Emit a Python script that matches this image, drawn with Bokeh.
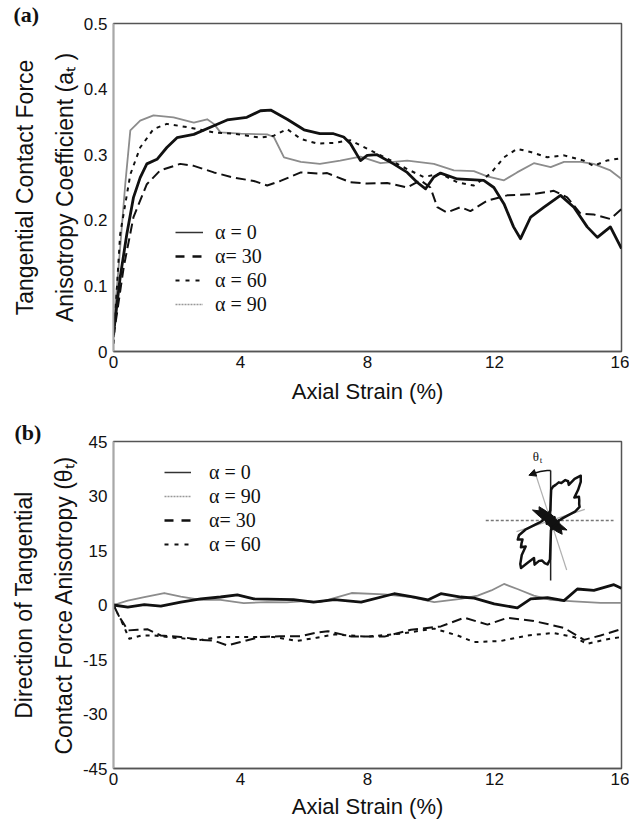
import math
from bokeh.plotting import figure
from bokeh.models import Range1d, FixedTicker, Label, Legend, LegendItem, Title
from bokeh.layouts import column
from bokeh.embed import file_html
from bokeh.resources import INLINE

# ---------------- data ----------------
x_ticks = [0, 4, 8, 12, 16]
x_tick_labels = ["0", "4", "8", "12", "16"]
a_ticks = [0, 0.1, 0.2, 0.3, 0.4, 0.5]
a_tick_labels = ["0", "0.1", "0.2", "0.3", "0.4", "0.5"]
t_ticks = [-45, -30, -15, 0, 15, 30, 45]
t_tick_labels = ["-45", "-30", "-15", "0", "15", "30", "45"]

# (a) anisotropy coefficient a_t
a0_x = [0, 0.21, 0.42, 0.63, 0.84, 1.05, 1.37, 1.68, 2.0, 2.53, 3.16, 3.58, 4.2, 4.63, 4.95, 5.47, 6.0, 6.5,
        6.93, 7.25, 7.46, 7.78, 7.99, 8.3, 8.82, 9.25, 9.56, 9.83, 10.09, 10.3, 10.83, 11.66, 11.98, 12.3,
        12.6, 12.82, 13.14, 13.56, 14.08, 14.5, 14.92, 15.24, 15.65, 16]
a0_y = [0.027, 0.113, 0.179, 0.235, 0.265, 0.286, 0.293, 0.311, 0.326, 0.331, 0.344, 0.353, 0.357, 0.367,
        0.368, 0.354, 0.338, 0.332, 0.332, 0.327, 0.317, 0.291, 0.299, 0.300, 0.286, 0.273, 0.258, 0.248,
        0.266, 0.272, 0.263, 0.261, 0.25, 0.225, 0.19, 0.172, 0.205, 0.22, 0.238, 0.22, 0.19, 0.174, 0.19, 0.157]
a30_x = [0, 0.32, 0.63, 1.05, 1.47, 2.1, 2.53, 3.16, 3.79, 4.42, 4.84, 5.26, 5.9, 6.5, 6.73, 7.46, 7.99,
         8.62, 9.25, 9.67, 9.98, 10.2, 10.5, 10.93, 11.24, 11.77, 12.4, 13.24, 13.87, 14.29, 14.71, 15.12,
         15.65, 16]
a30_y = [0.022, 0.128, 0.205, 0.255, 0.276, 0.286, 0.283, 0.273, 0.265, 0.26, 0.253, 0.26, 0.273, 0.271,
         0.272, 0.258, 0.256, 0.257, 0.25, 0.261, 0.25, 0.22, 0.212, 0.22, 0.214, 0.23, 0.238, 0.24, 0.245,
         0.235, 0.21, 0.209, 0.202, 0.217]
a60_x = [0, 0.21, 0.53, 0.84, 1.26, 1.68, 2.32, 3.16, 3.79, 4.63, 5.05, 5.47, 5.9, 6.41, 6.93, 7.46, 7.99,
         8.62, 9.25, 9.77, 10.3, 10.83, 11.35, 11.87, 12.3, 12.71, 13.14, 13.66, 14.19, 14.81, 15.12, 15.54,
         15.9]
a60_y = [0.012, 0.179, 0.27, 0.311, 0.339, 0.347, 0.342, 0.334, 0.332, 0.326, 0.329, 0.339, 0.324, 0.317,
         0.318, 0.322, 0.309, 0.294, 0.278, 0.266, 0.271, 0.258, 0.253, 0.271, 0.296, 0.309, 0.304, 0.296,
         0.299, 0.291, 0.283, 0.291, 0.294]
a90_x = [0, 0.16, 0.37, 0.53, 0.84, 1.26, 1.89, 2.53, 2.95, 3.16, 3.37, 4.0, 4.84, 5.05, 5.37, 5.9, 6.5,
         7.14, 7.78, 8.41, 9.25, 10.09, 10.72, 11.35, 11.77, 12.3, 12.71, 13.24, 13.77, 14.19, 14.71, 15.12,
         15.65, 16]
a90_y = [0.037, 0.128, 0.255, 0.337, 0.352, 0.36, 0.357, 0.349, 0.354, 0.347, 0.334, 0.332, 0.331, 0.327,
         0.296, 0.289, 0.286, 0.291, 0.297, 0.287, 0.291, 0.286, 0.276, 0.275, 0.267, 0.261, 0.273, 0.287,
         0.281, 0.289, 0.289, 0.286, 0.276, 0.263]

# (b) direction theta_t (degrees)
b0_x = [0, 0.45, 0.97, 1.49, 2.12, 2.75, 3.37, 3.9, 4.42, 5.67, 6.3, 6.96, 7.8, 8.84, 9.47, 9.9, 10.31,
        10.94, 11.36, 11.99, 12.72, 13.14, 13.67, 14.19, 14.61, 15.13, 15.76, 16]
b0_y = [0, -0.6, 0.1, -0.3, 0.8, 1.7, 2.2, 2.8, 1.7, 1.5, 0.8, 1.5, 0.8, 3.1, 2.2, 1.4, 3.1, 2.2, 1.9, 0.3,
        -0.8, 1.7, 2.0, 1.2, 4.4, 4.0, 5.6, 4.6]
b90_x = [0, 0.45, 0.97, 1.6, 2.12, 2.75, 3.37, 4.1, 4.83, 5.46, 6.0, 6.5, 7.5, 8.53, 9.37, 10.1, 10.94,
         11.47, 11.9, 12.3, 12.72, 13.24, 13.77, 14.5, 15.34, 16]
b90_y = [0, 1.2, 2.2, 3.3, 2.3, 1.4, 1.4, 0.5, 0.8, 0.7, 1.1, 0.8, 3.3, 2.9, 2.2, 0.8, 1.7, 2.6, 4.0, 5.8,
         4.4, 2.6, 1.4, 1.0, 0.6, 0.6]
b30_x = [0, 0.19, 0.29, 0.45, 0.76, 1.08, 1.49, 2.12, 2.75, 3.16, 3.58, 4.0, 4.63, 5.25, 5.88, 6.4, 6.75,
         7.5, 8.53, 9.37, 10.31, 11.05, 11.78, 12.41, 13.24, 14.19, 14.82, 15.34, 16]
b30_y = [0, -3.4, -4.7, -7.0, -6.8, -6.7, -8.4, -8.8, -9.6, -9.8, -11.1, -10.2, -8.8, -8.6, -8.6, -7.6,
         -7.2, -8.7, -8.7, -6.8, -5.9, -3.5, -5.4, -3.5, -4.4, -6.3, -9.6, -8.4, -6.6]
b60_x = [0, 0.29, 0.5, 0.87, 1.28, 1.91, 2.75, 3.37, 4.2, 5.04, 5.78, 6.4, 6.96, 8.0, 9.05, 10.1, 10.84,
         11.36, 12.2, 13.03, 13.87, 14.5, 14.92, 15.44, 16]
b60_y = [0, -5.2, -9.3, -8.4, -8.4, -9.0, -9.6, -8.8, -8.8, -8.8, -9.9, -9.0, -8.1, -8.7, -7.9, -6.5, -8.4,
         -10.2, -9.9, -8.4, -7.7, -8.8, -10.7, -9.6, -8.8]

# inset rose diagram (polar outline: angle in degrees, radius in px)
rose_deg = [0, 5, 10, 15, 20, 25, 30, 35, 40, 44, 48, 52, 56, 60, 63, 66, 70, 74, 78, 82, 86, 89, 92, 110,
            140, 170, 180, 185, 190, 195, 200, 205, 210, 214, 218, 222, 226, 230, 235, 238, 242, 246, 250,
            254, 258, 262, 266, 269, 272, 290, 320, 350]
rose_r = [8, 10, 12, 16, 26, 32, 33, 35, 37, 33, 41, 49, 54, 48, 40, 43, 43, 39, 39, 36, 34, 31, 10, 7,
          7, 8, 8, 9, 11, 16, 27, 35, 38, 34, 37, 40, 36, 45, 53, 56, 47, 41, 47, 42, 41, 43, 44, 39, 10, 7,
          7, 8]
blob_deg = [0, 20, 40, 60, 80, 100, 120, 130, 140, 150, 160, 180, 200, 220, 240, 260, 280, 300, 310, 320,
            330, 340]
blob_r = [7, 5, 6, 5, 6, 7, 12, 18, 15, 21, 12, 6, 5, 6, 5, 6, 8, 13, 18, 14, 19, 10]
principal_deg = 108

# ---------------- styling ----------------
SANS = "Liberation Sans"
SERIF = "Liberation Serif"
INK = "#111111"
GRAY = "#8c8c8c"
AX_DARK = "#555555"
AX_LIGHT = "#a8a8a8"

H1, H2 = 408, 414   # figure heights (page = 822)


def base_figure(height, top, bottom, left, yr, yticks, ylabels, px_rng, py_rng, xlabel_standoff,
                ylabel, panel_tag, tag_standoff):
    p = figure(width=629, height=height, x_range=Range1d(0, 16), y_range=Range1d(*yr),
               output_backend="svg", toolbar_location=None,
               min_border_left=left, min_border_right=8, min_border_top=top, min_border_bottom=bottom)
    p.grid.visible = False
    p.outline_line_color = AX_DARK
    p.outline_line_width = 1.5
    p.extra_x_ranges = {"px": Range1d(*px_rng)}
    p.extra_y_ranges = {"py": Range1d(*py_rng)}

    p.title = Title(text=panel_tag, align="left", offset=13 - left, standoff=tag_standoff,
                    text_font=SERIF, text_font_size="22px", text_font_style="bold", text_color=INK,
                    vertical_align="bottom")

    def style(ax, color):
        ax.axis_line_color = color
        ax.axis_line_width = 1.5
        ax.major_tick_line_color = None
        ax.minor_tick_line_color = None
        ax.major_tick_out = 0
        ax.major_tick_in = 0
        ax.minor_tick_out = 0
        ax.minor_tick_in = 0
        ax.major_label_text_font = SANS
        ax.major_label_text_font_size = "17px"
        ax.major_label_text_color = INK

    xa = p.xaxis[0]
    style(xa, AX_DARK)
    xa.ticker = FixedTicker(ticks=x_ticks)
    xa.major_label_overrides = dict(zip(x_ticks, x_tick_labels))
    xa.major_label_standoff = 4
    xa.axis_label = "Axial Strain (%)"
    xa.axis_label_text_font = SANS
    xa.axis_label_text_font_size = "22px"
    xa.axis_label_text_font_style = "normal"
    xa.axis_label_text_color = INK
    xa.axis_label_standoff = xlabel_standoff

    ya = p.yaxis[0]
    style(ya, AX_LIGHT)
    ya.ticker = FixedTicker(ticks=yticks)
    ya.major_label_overrides = dict(zip(yticks, ylabels))
    ya.major_label_standoff = 6
    ya.axis_label = ylabel
    ya.axis_label_text_font = SANS
    ya.axis_label_text_font_size = "23px"
    ya.axis_label_text_font_style = "normal"
    ya.axis_label_text_color = INK
    ya.axis_label_text_line_height = 1.55
    ya.axis_label_standoff = 3
    return p


def dlbl(p, x, y, text, size, font=SERIF):
    p.add_layout(Label(x=x, y=y, x_range_name="px", y_range_name="py", text=text, text_align="left",
                       text_baseline="middle", text_font=font, text_font_size=size, text_color=INK))


def add_legend(p, entries, loc, glyph_w, standoff, off_y):
    items = []
    for label, color, width, dash in entries:
        r = p.line(x=[-5, -4], y=[off_y, off_y], line_color=color, line_width=width, line_dash=dash)
        items.append(LegendItem(label=label, renderers=[r]))
    lg = Legend(items=items, location=loc, orientation="vertical", border_line_color=None,
                background_fill_alpha=0, padding=0, margin=0, spacing=0, glyph_width=glyph_w,
                glyph_height=24, label_height=24, label_standoff=standoff, label_text_font=SERIF,
                label_text_font_size="20px", label_text_color=INK, label_text_baseline="middle")
    p.add_layout(lg)


S_SOLID = ("#111111", 2.8, "solid")
S_30 = ("#111111", 2.0, "10 5")
S_60 = ("#111111", 2.0, "4 5")
S_90 = (GRAY, 1.8, "solid")

# ---------------- panel (a) ----------------
p1 = base_figure(H1, 23, H1 - 351, 113, (0, 0.5), a_ticks, a_tick_labels, (113, 621), (351, 23), 8,
                 "Tangential Contact Force\nAnisotropy Coefficient (aₜ )", "(a)", -7)
for xs, ys, (c, w, d) in [(a90_x, a90_y, S_90), (a60_x, a60_y, S_60), (a30_x, a30_y, S_30),
                          (a0_x, a0_y, S_SOLID)]:
    p1.line(xs, ys, line_color=c, line_width=w, line_dash=d, line_join="round")

add_legend(p1, [("α = 0", "#333333", 1.5, "solid"), ("α= 30", "#111111", 2.5, "9 8"),
                ("α = 60", "#111111", 2.0, "4 6"), ("α = 90", "#999999", 1.5, "2 1")],
           (62, 35), 28, 12, -1)

# ---------------- panel (b) ----------------
OFF = H1  # page y offset of the second figure
p2 = base_figure(H2, 441 - OFF, OFF + H2 - 768, 112, (-45, 45), t_ticks, t_tick_labels, (112, 621),
                 (768, 441), 6, "Direction of Tangential\nContact Force Anisotropy (θₜ)", "(b)", -7)
for xs, ys, (c, w, d) in [(b60_x, b60_y, S_60), (b30_x, b30_y, S_30), (b90_x, b90_y, S_90),
                          (b0_x, b0_y, S_SOLID)]:
    p2.line(xs, ys, line_color=c, line_width=w, line_dash=d, line_join="round")

add_legend(p2, [("α = 0", "#333333", 1.5, "solid"), ("α = 90", "#999999", 1.5, "2 1"),
                ("α= 30", "#111111", 2.5, "9 8"), ("α = 60", "#111111", 2.0, "4 6")],
           (51, 212), 27, 18, -100)

# inset: rose diagram drawn in page-pixel coordinates
cx, cy = 550, 520
kw = dict(x_range_name="px", y_range_name="py")
p2.line([cx - 65, cx + 63], [cy, cy], line_color="#777777", line_width=1.5, line_dash="3 2", **kw)
p2.line([cx, cx], [cy - 50, cy + 60], line_color="#222222", line_width=1.5, **kw)
pa = math.radians(principal_deg)
p2.line([cx + 52 * math.cos(pa), cx - 52 * math.cos(pa)], [cy - 52 * math.sin(pa), cy + 52 * math.sin(pa)],
        line_color="#b0b0b0", line_width=1.2, **kw)
pb = pa - math.pi / 2
p2.line([cx + 36 * math.cos(pb), cx - 36 * math.cos(pb)], [cy - 36 * math.sin(pb), cy + 36 * math.sin(pb)],
        line_color="#b0b0b0", line_width=1.2, **kw)
p2.patch([cx + r * math.cos(math.radians(d)) for d, r in zip(blob_deg, blob_r)],
         [cy - r * math.sin(math.radians(d)) for d, r in zip(blob_deg, blob_r)],
         fill_color="#111111", line_color="#111111", line_width=1, **kw)
p2.patch([cx + r * math.cos(math.radians(d)) for d, r in zip(rose_deg, rose_r)],
         [cy - r * math.sin(math.radians(d)) for d, r in zip(rose_deg, rose_r)],
         fill_alpha=0, line_color="#111111", line_width=2.5, line_join="round", **kw)
R = 50
arc_t = [math.radians(90 + i) for i in range(0, 21, 2)]
p2.line([cx + R * math.cos(t) for t in arc_t], [cy - R * math.sin(t) for t in arc_t],
        line_color="#111111", line_width=1.5, **kw)
te = arc_t[-1]
ex, ey = cx + R * math.cos(te), cy - R * math.sin(te)
dx, dy = -math.sin(te), -math.cos(te)  # tangent direction (page coords)
nx, ny = -dy, dx
p2.patch([ex + 5 * dx, ex - 2 * dx + 3.5 * nx, ex - 2 * dx - 3.5 * nx],
         [ey + 5 * dy, ey - 2 * dy + 3.5 * ny, ey - 2 * dy - 3.5 * ny],
         fill_color="#111111", line_color="#111111", **kw)
dlbl(p2, 532, 456, "θ", "13px")
dlbl(p2, 539, 459, "t", "9px")

layout = column(p1, p2, spacing=0)
open("out.html", "w").write(file_html(layout, INLINE))
